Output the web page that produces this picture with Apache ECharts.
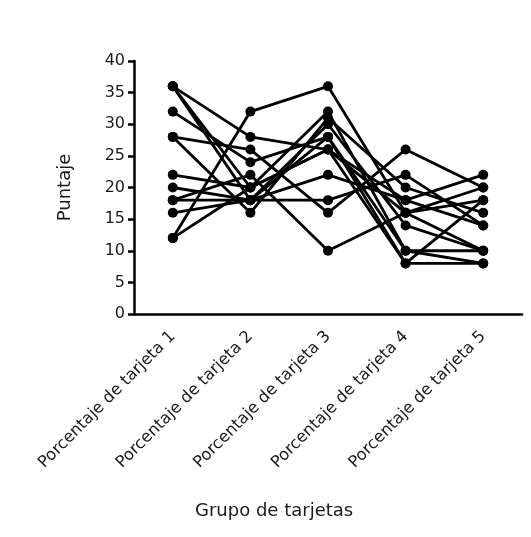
<!DOCTYPE html>
<html>
<head>
<meta charset="utf-8">
<script src="https://cdn.jsdelivr.net/npm/echarts@6/dist/echarts.min.js"></script>
<style>
  html, body { margin: 0; padding: 0; background: #fff; }
  #chart { width: 531px; height: 537px; }
</style>
</head>
<body>
<div id="chart"></div>
<script>
// categorías del eje x
const categories = [
  'Porcentaje de tarjeta 1',
  'Porcentaje de tarjeta 2',
  'Porcentaje de tarjeta 3',
  'Porcentaje de tarjeta 4',
  'Porcentaje de tarjeta 5',
]
const yTicks = [0, 5, 10, 15, 20, 25, 30, 35, 40]

// un array por sujeto (leído a ojo del gráfico)
const s1 = [12, 32, 36, 16, 10]
const s2 = [36, 28, 26, 18, 14]
const s3 = [36, 20, 32, 10, 8]
const s4 = [36, 18, 30, 14, 10]
const s5 = [32, 24, 28, 8, 8]
const s6 = [28, 26, 16, 26, 20]
const s7 = [28, 16, 31, 20, 16]
const s8 = [22, 20, 26, 16, 18]
const s9 = [20, 18, 22, 18, 22]
const s10 = [18, 18, 18, 22, 14]
const s11 = [18, 22, 10, 16, 20]
const s12 = [16, 18, 28, 10, 10]
const s13 = [12, 20, 26, 8, 18]
const subjects = [s1, s2, s3, s4, s5, s6, s7, s8, s9, s10, s11, s12, s13]

const textColor = '#1a1a1a'
const font = 'DejaVu Sans, sans-serif'

const chart = echarts.init(document.getElementById('chart'))
chart.setOption({
  animation: false,
  grid: { left: 134, top: 61, right: 9, bottom: 223 },
  graphic: [
    {
      // título del eje x, no centrado sobre el eje en el original
      type: 'text',
      left: 195,
      top: 502,
      style: { text: 'Grupo de tarjetas', fill: textColor, font: '18px ' + font },
    },
  ],
  xAxis: {
    type: 'category',
    data: categories,
    boundaryGap: true,
    axisLine: { lineStyle: { color: '#000', width: 2.5 } },
    axisTick: { alignWithLabel: true, length: 6, lineStyle: { color: '#000', width: 2.5 } },
    axisLabel: { rotate: 45, fontSize: 16.3, color: textColor, fontFamily: font, margin: 20, interval: 0 },
  },
  yAxis: {
    type: 'value',
    min: yTicks[0],
    max: yTicks[yTicks.length - 1],
    interval: 5,
    name: 'Puntaje',
    nameLocation: 'middle',
    nameGap: 60,
    nameTextStyle: { color: textColor, fontSize: 18, fontFamily: font },
    axisLine: { show: true, lineStyle: { color: '#000', width: 2.5 } },
    axisTick: { show: true, length: 6, lineStyle: { color: '#000', width: 2.5 } },
    axisLabel: { fontSize: 16, color: textColor, fontFamily: font, margin: 9 },
    splitLine: { show: false },
  },
  series: subjects.map((d, i) => ({
    name: 'S' + (i + 1),
    type: 'line',
    data: d,
    symbol: 'circle',
    symbolSize: 10,
    lineStyle: { color: '#000', width: 2.8 },
    itemStyle: { color: '#000' },
  })),
})
</script>
</body>
</html>
